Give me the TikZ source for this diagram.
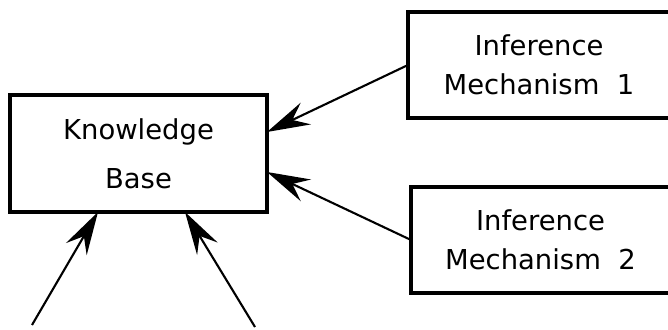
\documentclass[tikz,border=0pt]{standalone}
\usepackage{fontspec}
\setmainfont{DejaVu Sans}
\usetikzlibrary{arrows.meta, positioning, calc}

\begin{document}
\begin{tikzpicture}[
		box/.style={draw, line width=0.9pt, align=center, inner sep=0pt, outer sep=0pt, font=\fontsize{7.8}{11}\selectfont},
		feed/.style={-{Stealth[length=4.3mm, width=2.4mm, inset=1.5mm]}, line width=0.6pt}
	]
		% Frame
		\clip (0,0) rectangle (6.68,3.30);
		
		% Boxes
		\node[box, minimum width=2.57cm, minimum height=1.17cm, font=\fontsize{7.8}{14}\selectfont] (kb) at (1.385,1.765) {Knowledge\\Base};
		\node[box, minimum width=2.62cm, minimum height=1.06cm] (im1) at (5.39,2.65) {Inference\\Mechanism~~1};
		\node[box, minimum width=2.59cm, minimum height=1.06cm] (im2) at (5.405,0.90) {Inference\\Mechanism~~2};
		
		% Loose ends of the lower arrows
		\coordinate (in1) at (0.32,0.05);
		\coordinate (in2) at (2.55,0.03);
		
		% Arrows
		\draw[feed] (im1.west) -- ($(kb.east)+(0,0.215)$);
		\draw[feed] (im2.west) -- ($(kb.east)+(0,-0.185)$);
		\draw[feed] (in1) -- ($(kb.south)+(-0.405,0)$);
		\draw[feed] (in2) -- ($(kb.south)+(0.465,0)$);
	\end{tikzpicture}
\end{document}
